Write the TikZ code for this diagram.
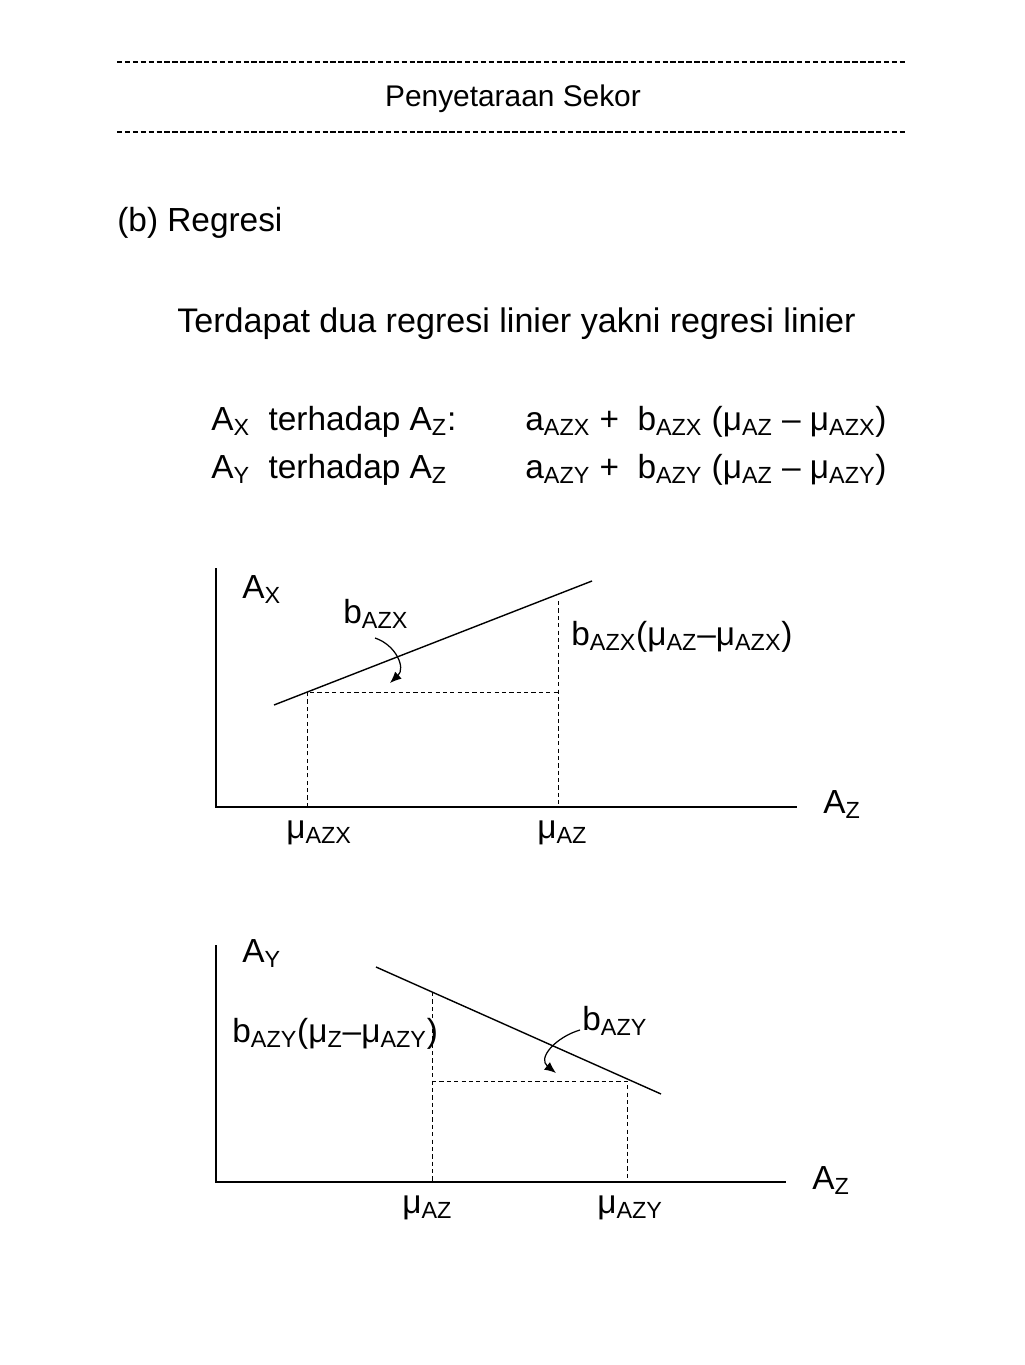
\documentclass[tikz,border=0pt]{standalone}
\usepackage{fontspec}
\setmainfont{Liberation Sans}
\usetikzlibrary{arrows.meta}
\newcommand{\sbs}[1]{\textsubscript{#1}}

\begin{document}
\begin{tikzpicture}[x=0.02cm, y=-0.02cm, >={Latex[length=6.5pt,width=5.5pt]},
  txt/.style={inner sep=0pt, anchor=base west, font=\fontsize{19}{23}\selectfont},
  axis/.style={line width=0.8pt},
  guide/.style={line width=0.5pt, dash pattern=on 2.4pt off 1.8pt},
  rule/.style={line width=1.4pt, dash pattern=on 3.1pt off 1.4pt}]
\useasboundingbox[fill=white] (0,0) rectangle (1024,1365);

% header
\coordinate (r1a) at (117,62);
\coordinate (r1b) at (905,62);
\coordinate (r2a) at (117,132);
\coordinate (r2b) at (905,132);
\draw[rule] (r1a) -- (r1b);
\draw[rule] (r2a) -- (r2b);
\node[txt, anchor=base, font=\fontsize{17}{20}\selectfont] (title) at (513,107) {Penyetaraan Sekor};

\node[txt] (sect) at (117,232) {(b) Regresi};
\node[txt, font=\fontsize{19.4}{23}\selectfont] (intro) at (177,332) {Terdapat dua regresi linier yakni regresi linier};

\node[txt] (rowx) at (211,430) {A\sbs{X}\ \ terhadap A\sbs{Z}:};
\node[txt] (eqx) at (525,430) {a\sbs{AZX} +\ \ b\sbs{AZX} (μ\sbs{AZ} – μ\sbs{AZX})};
\node[txt] (rowy) at (211,478) {A\sbs{Y}\ \ terhadap A\sbs{Z}};
\node[txt] (eqy) at (525,478) {a\sbs{AZY} +\ \ b\sbs{AZY} (μ\sbs{AZ} – μ\sbs{AZY})};

% graph 1
\coordinate (o1) at (216,807);
\coordinate (y1) at (216,568);
\coordinate (x1) at (797,807);
\draw[axis] (y1) -- (o1) -- (x1);
\coordinate (l1a) at (274,705);
\coordinate (l1b) at (592,581);
\draw[axis] (l1a) -- (l1b);
\coordinate (p1) at (307,692);
\coordinate (q1) at (558,692);
\coordinate (q1t) at (558,601);
\draw[guide] (p1 |- o1) -- (p1) -- (q1);
\draw[guide] (q1t) -- (q1 |- o1);
\coordinate (s1) at (375,638);
\coordinate (e1) at (390,683);
\draw[->, line width=0.7pt] (s1) .. controls (396,645) and (406,668) .. (e1);

\node[txt] (ax) at (242,598) {A\sbs{X}};
\node[txt] (bx) at (343,623) {b\sbs{AZX}};
\node[txt] (dx) at (571,645) {b\sbs{AZX}(μ\sbs{AZ}–μ\sbs{AZX})};
\node[txt] (mx) at (286,838) {μ\sbs{AZX}};
\node[txt] (mz1) at (537,838) {μ\sbs{AZ}};
\node[txt] (az1) at (823,813) {A\sbs{Z}};

% graph 2
\coordinate (o2) at (216,1182);
\coordinate (y2) at (216,945);
\coordinate (x2) at (786,1182);
\draw[axis] (y2) -- (o2) -- (x2);
\coordinate (l2a) at (376,967);
\coordinate (l2b) at (661,1094);
\draw[axis] (l2a) -- (l2b);
\coordinate (p2) at (432,992);
\coordinate (q2) at (432,1081);
\coordinate (q2r) at (627,1081);
\draw[guide] (p2) -- (p2 |- o2);
\draw[guide] (q2) -- (q2r) -- (q2r |- o2);
\coordinate (s2) at (580,1030);
\coordinate (e2) at (556,1073);
\draw[->, line width=0.7pt] (s2) .. controls (556,1037) and (537,1058) .. (e2);

\node[txt] (ay) at (242,962) {A\sbs{Y}};
\node[txt] (dy) at (232,1042) {b\sbs{AZY}(μ\sbs{Z}–μ\sbs{AZY})};
\node[txt] (by) at (582,1030) {b\sbs{AZY}};
\node[txt] (mz2) at (402,1213) {μ\sbs{AZ}};
\node[txt] (my) at (597,1213) {μ\sbs{AZY}};
\node[txt] (az2) at (812,1189) {A\sbs{Z}};
\end{tikzpicture}
\end{document}
